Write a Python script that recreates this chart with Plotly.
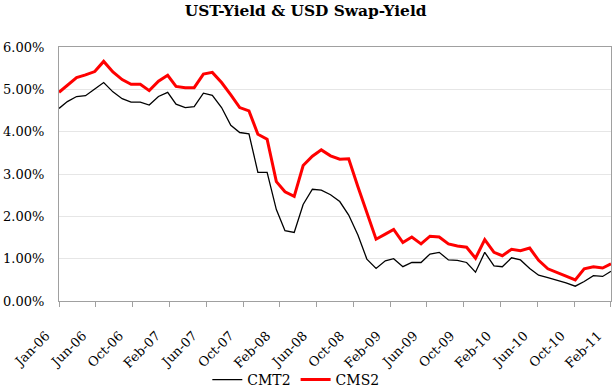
import plotly.graph_objects as go
import pandas as pd
import numpy as np

title = "UST-Yield & USD Swap-Yield"
months = pd.date_range("2006-01-31", "2011-02-28", freq="ME")

cmt2 = [4.55, 4.71, 4.83, 4.85, 5.01, 5.16, 4.94, 4.78, 4.70, 4.70,
        4.63, 4.83, 4.93, 4.65, 4.57, 4.59, 4.91, 4.86, 4.57, 4.15,
        3.98, 3.95, 3.04, 3.04, 2.16, 1.66, 1.62, 2.28, 2.64, 2.62,
        2.51, 2.35, 2.03, 1.56, 0.99, 0.77, 0.95, 1.00, 0.81, 0.91,
        0.91, 1.11, 1.15, 0.97, 0.96, 0.91, 0.68, 1.15, 0.83, 0.81,
        1.02, 0.97, 0.77, 0.61, 0.55, 0.49, 0.43, 0.35, 0.46, 0.60,
        0.58, 0.70]
cms2 = [4.93, 5.10, 5.28, 5.34, 5.42, 5.66, 5.41, 5.23, 5.12, 5.12,
        4.97, 5.19, 5.33, 5.07, 5.04, 5.04, 5.36, 5.40, 5.16, 4.87,
        4.57, 4.49, 3.94, 3.82, 2.82, 2.58, 2.47, 3.20, 3.42, 3.57,
        3.43, 3.35, 3.36, 2.70, 2.07, 1.46, 1.58, 1.69, 1.38, 1.51,
        1.35, 1.53, 1.51, 1.35, 1.30, 1.27, 1.01, 1.45, 1.15, 1.07,
        1.22, 1.19, 1.25, 0.96, 0.76, 0.68, 0.59, 0.50, 0.76, 0.81,
        0.78, 0.88]
tick_labels = ["Jan-06", "Jun-06", "Oct-06", "Feb-07", "Jun-07", "Oct-07",
               "Feb-08", "Jun-08", "Oct-08", "Feb-09", "Jun-09", "Oct-09",
               "Feb-10", "Jun-10", "Oct-10", "Feb-11"]
y_ticks = [0, 1, 2, 3, 4, 5, 6]

t0, t1 = months[0].value, months[-1].value
tick_pos = pd.to_datetime(np.linspace(t0, t1, len(tick_labels)).astype("int64"))
pad = pd.Timedelta(hours=2)

FONT = "DejaVu Serif"

fig = go.Figure()
fig.add_trace(go.Scatter(x=months, y=[v / 100 for v in cmt2], name="CMT2",
                         mode="lines", line=dict(color="black", width=1.3)))
fig.add_trace(go.Scatter(x=months, y=[v / 100 for v in cms2], name="CMS2",
                         mode="lines", line=dict(color="#ff0000", width=3)))

fig.update_layout(
    width=615, height=387,
    margin=dict(l=59, r=4, t=47, b=86),
    paper_bgcolor="white", plot_bgcolor="white",
    font=dict(family=FONT, size=13, color="black"),
    title=dict(text="<b>" + title + "</b>", x=0.497, xref="container",
               xanchor="center", y=1 - 5 / 387, yanchor="top",
               font=dict(family=FONT, size=15.4, color="black")),
    showlegend=True,
    legend=dict(orientation="h", xref="container", yref="container",
                x=0.481, xanchor="center", y=1 - 364 / 387, yanchor="top",
                font=dict(family=FONT, size=14), itemwidth=30,
                bgcolor="rgba(0,0,0,0)"),
    xaxis=dict(range=[months[0] - pad, months[-1] + pad], tickmode="array",
               tickvals=tick_pos, ticktext=tick_labels,
               tickangle=-45, automargin=False, ticklabeloverflow="allow",
               showgrid=False, ticks="outside", ticklen=5, tickcolor="#a0a0a0",
               ticklabelstandoff=16, ticklabelshift=-13,
               showline=True, linecolor="#a0a0a0", linewidth=1, mirror=True,
               tickfont=dict(family=FONT, size=13)),
    yaxis=dict(range=[0, 0.06], tickmode="array", automargin=False,
               tickvals=[v / 100 for v in y_ticks], tickformat=".2%",
               showgrid=True, gridcolor="#e6e6e6", gridwidth=1,
               showline=True, linecolor="#a0a0a0", linewidth=1, mirror=True,
               ticks="outside", ticklen=11, tickcolor="rgba(0,0,0,0)",
               zeroline=False, tickfont=dict(family=FONT, size=13)),
)

fig.write_html("out.html", config={"displayModeBar": False},
               post_script="document.body.style.margin='0';document.body.style.padding='0';")
